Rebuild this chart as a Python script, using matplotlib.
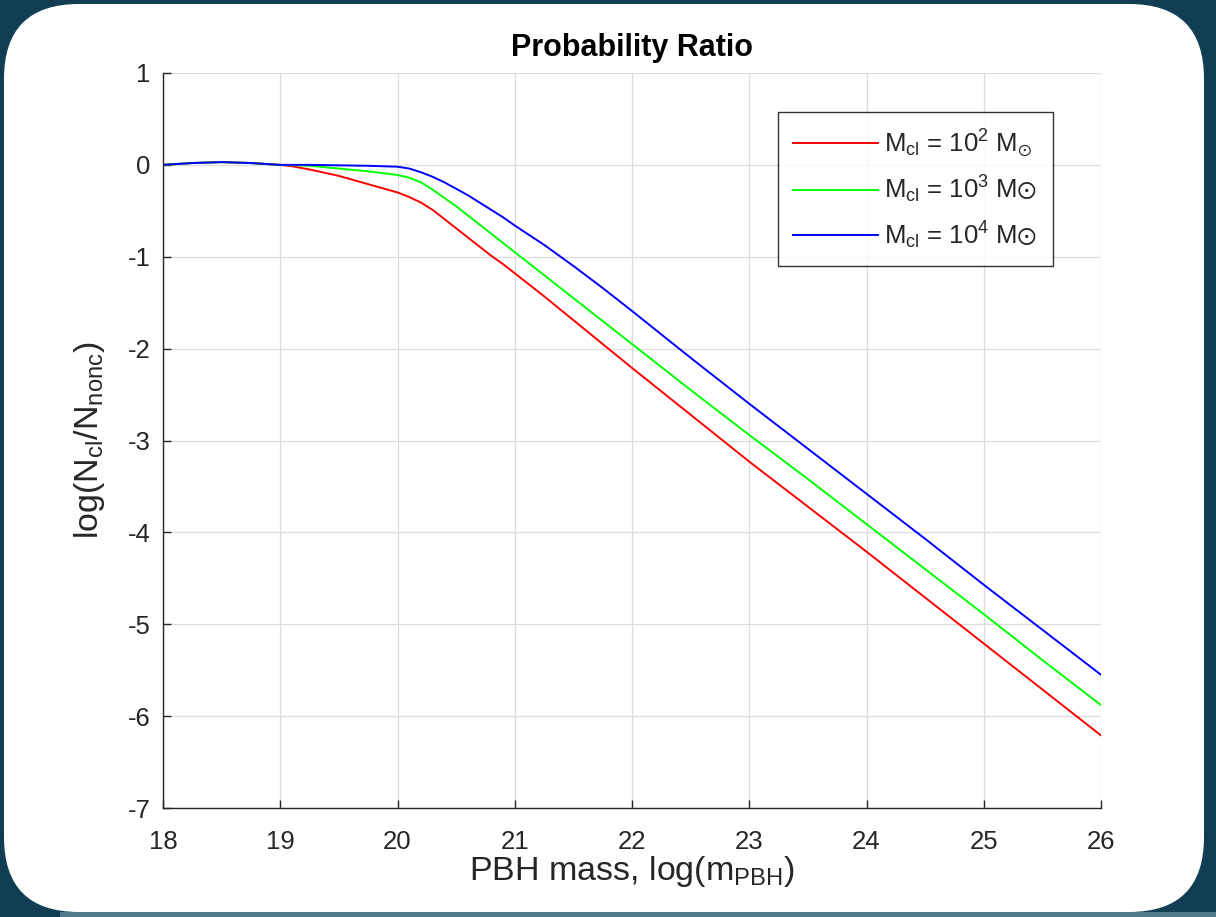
import matplotlib
matplotlib.use("Agg")
import matplotlib.pyplot as plt
from matplotlib.patches import FancyBboxPatch, Rectangle

plt.rcParams['font.family'] = ['Liberation Sans', 'DejaVu Sans']
plt.rcParams['mathtext.fontset'] = 'custom'
plt.rcParams['mathtext.rm'] = 'Liberation Sans'
plt.rcParams['mathtext.it'] = 'Liberation Sans'
plt.rcParams['mathtext.default'] = 'regular'
plt.rcParams['axes.unicode_minus'] = False

# ---- data ----
x_mass = [18, 18.25, 18.5, 18.75, 19, 19.1, 19.25, 19.5, 19.75, 20, 20.1, 20.2, 20.3,
          20.4, 20.5, 20.6, 20.7, 20.8, 20.9, 21, 21.25, 21.5, 21.75, 22, 22.5, 23,
          23.5, 24, 24.5, 25, 25.5, 26]
ratio_1e2 = [0, 0.02, 0.03, 0.02, 0, -0.015, -0.05, -0.12, -0.21, -0.30, -0.35, -0.41, -0.49,
             -0.59, -0.69, -0.79, -0.89, -0.99, -1.08, -1.18, -1.43, -1.69, -1.95, -2.21, -2.72, -3.23,
             -3.72, -4.21, -4.71, -5.21, -5.71, -6.21]
ratio_1e3 = [0, 0.02, 0.03, 0.02, 0, -0.003, -0.01, -0.04, -0.07, -0.11, -0.14, -0.19, -0.27,
             -0.36, -0.45, -0.55, -0.65, -0.75, -0.85, -0.95, -1.20, -1.45, -1.70, -1.95, -2.45, -2.94,
             -3.42, -3.91, -4.40, -4.89, -5.39, -5.88]
ratio_1e4 = [0, 0.02, 0.03, 0.02, 0, 0, 0, -0.005, -0.01, -0.02, -0.04, -0.08, -0.13,
             -0.19, -0.26, -0.33, -0.41, -0.49, -0.57, -0.66, -0.87, -1.10, -1.34, -1.59, -2.10, -2.60,
             -3.09, -3.58, -4.07, -4.57, -5.06, -5.55]
labels = [r'M$_{cl}$ = 10$^{2}$ M$_{\odot}$',
          r'M$_{cl}$ = 10$^{3}$ M$\odot$',
          r'M$_{cl}$ = 10$^{4}$ M$\odot$']
colors = ['#ff0000', '#00ff00', '#0000ff']
x_ticks = [18, 19, 20, 21, 22, 23, 24, 25, 26]
y_ticks = [1, 0, -1, -2, -3, -4, -5, -6, -7]

W, H = 1216, 917
fig = plt.figure(figsize=(W / 100, H / 100), dpi=100)
fig.patch.set_facecolor('#123e53')

bg = fig.add_axes([0, 0, 1, 1])
bg.set_xlim(0, W)
bg.set_ylim(H, 0)
bg.axis('off')
bg.add_patch(Rectangle((60, 912), W - 60, 5, facecolor='#4f7a8c', edgecolor='none'))
bg.add_patch(FancyBboxPatch((4, 4), 1200, 908, boxstyle='round,pad=0,rounding_size=75',
                            facecolor='white', edgecolor='none'))

ax = fig.add_axes([163 / W, 1 - 808 / H, (1101 - 163) / W, (808 - 73) / H])
ax.set_facecolor('white')
for y, c, lab in zip([ratio_1e2, ratio_1e3, ratio_1e4], colors, labels):
    ax.plot(x_mass, y, color=c, lw=1.4, label=lab)

ax.set_xlim(18, 26)
ax.set_ylim(-7, 1)
ax.set_xticks(x_ticks)
ax.set_yticks(y_ticks)
ax.grid(True, color='#dcdcdc', lw=0.9)
ax.set_axisbelow(True)
for s in ['top', 'right']:
    ax.spines[s].set_visible(False)
for s in ['left', 'bottom']:
    ax.spines[s].set_color('#262626')
    ax.spines[s].set_linewidth(1.0)
ax.tick_params(direction='in', length=6, width=1.0, colors='#262626', labelsize=18.5,
               labelcolor='#262626')
ax.tick_params(axis='x', pad=16)
ax.tick_params(axis='y', pad=9)

ax.set_title('Probability Ratio', fontsize=22, fontweight='bold', color='black', pad=12)
ax.set_xlabel('PBH mass, log(m$_{PBH}$)', fontsize=24.5, color='#262626', labelpad=0)
ax.set_ylabel('log(N$_{cl}$/N$_{nonc}$)', fontsize=24.5, color='#262626', labelpad=15)

leg = ax.legend(loc='upper right', bbox_to_anchor=(0.949, 0.947), borderaxespad=0,
                fontsize=18.5, frameon=True, fancybox=False, handlelength=3.3,
                handletextpad=0.25, labelspacing=0.55, borderpad=0.6)
leg.get_frame().set_edgecolor('black')
leg.get_frame().set_linewidth(1.0)
for t in leg.get_texts():
    t.set_color('#262626')

fig.savefig('out.png', dpi=100, facecolor=fig.get_facecolor())
